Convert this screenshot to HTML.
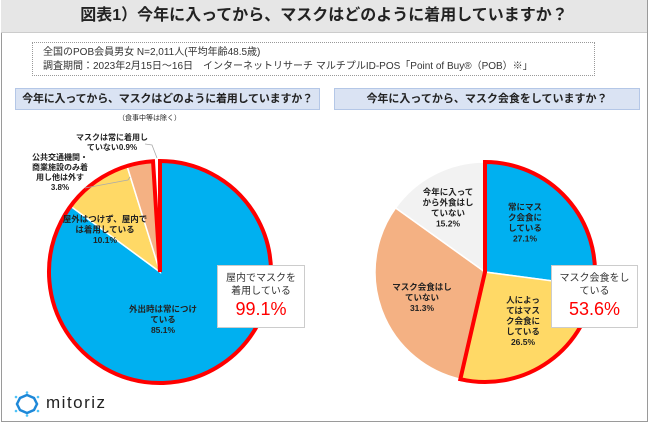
<!DOCTYPE html>
<html><head><meta charset="utf-8">
<style>
body{margin:0;width:650px;height:426px;background:#fff;font-family:"Liberation Sans","Noto Sans CJK JP",sans-serif;overflow:hidden;position:relative}
.abs{position:absolute}
</style></head><body>
<div class="abs" style="left:1px;top:0;width:645px;height:421px;border:1px solid #9a9a9a;border-top:none"></div>
<div class="abs" style="left:1px;top:0;width:646px;height:32px;background:#e6e6e6;border-bottom:1px solid #ccc;text-align:center;font-size:16px;font-weight:bold;line-height:32px;color:#222">図表1）今年に入ってから、マスクはどのように着用していますか？</div>
<div class="abs" style="left:32px;top:42px;width:563px;height:34px;border:1px dotted #999;font-size:10px;color:#333;line-height:14px;padding:3px 0 0 10px;box-sizing:border-box">全国のPOB会員男女 N=2,011人(平均年齢48.5歳)<br>調査期間：2023年2月15日～16日　インターネットリサーチ マルチプルID-POS「Point of Buy®（POB）※」</div>
<div class="abs" style="left:15px;top:88px;width:305px;height:22px;background:#dae3f3;border:1px solid #b4c7e7;box-sizing:border-box;font-size:11px;font-weight:bold;text-align:center;line-height:20px;color:#222;white-space:nowrap;letter-spacing:-0.2px">今年に入ってから、マスクはどのように着用していますか？</div>
<div class="abs" style="left:334px;top:88px;width:306px;height:22px;background:#dae3f3;border:1px solid #b4c7e7;box-sizing:border-box;font-size:11px;font-weight:bold;text-align:center;line-height:20px;color:#222;white-space:nowrap">今年に入ってから、マスク会食をしていますか？</div>
<div class="abs" style="left:118px;top:113px;font-size:7px;color:#222">（食事中等は除く）</div>
<svg id="chart" class="abs" style="left:0;top:0" width="650" height="426"></svg>
<div class="abs" style="left:217px;top:265px;width:88px;height:63px;background:#fff;border:1px solid #ccc;box-sizing:border-box;text-align:center;font-size:10px;color:#333;line-height:13px;padding-top:6px">屋内でマスクを<br>着用している<div style="color:#f00;font-size:18px;line-height:22px">99.1%</div></div>
<div class="abs" style="left:551px;top:265px;width:87px;height:63px;background:#fff;border:1px solid #ccc;box-sizing:border-box;text-align:center;font-size:10px;color:#333;line-height:13px;padding-top:6px">マスク会食をし<br>ている<div style="color:#f00;font-size:18px;line-height:22px">53.6%</div></div>
<div class="abs" style="left:14px;top:391px;width:100px;height:26px">
<svg width="26" height="26" style="position:absolute;left:0;top:0"><polygon points="13,4 20,7 23,13 20,19 13,22 6,19 3,13 6,7" fill="none" stroke="#1e88d8" stroke-width="2.5"/><g fill="#4fc3f7"><circle cx="13" cy="1.5" r="1.3"/><circle cx="24" cy="6" r="1.3"/><circle cx="24" cy="20" r="1.3"/><circle cx="13" cy="24.5" r="1.3"/><circle cx="2" cy="20" r="1.3"/><circle cx="2" cy="6" r="1.3"/></g></svg>
<span style="position:absolute;left:32px;top:2px;font-size:17px;letter-spacing:1.5px;color:#222">mitoriz</span></div>
<script>
const leftCats=["外出時は常につけている","屋外はつけず、屋内では着用している","公共交通機関・商業施設のみ着用し他は外す","マスクは常に着用していない"];
const leftVals=[85.1,10.1,3.8,0.9];
const rightCats=["常にマスク会食にしている","人によってはマスク会食にしている","マスク会食はしていない","今年に入ってから外食はしていない"];
const rightVals=[27.1,26.5,31.3,15.2];
const leftColors=["#00b0f0","#ffd966","#f4b183","#ffffff"];
const rightColors=["#00b0f0","#ffd966","#f4b183","#f2f2f2"];
const svg=document.getElementById('chart');const NS="http://www.w3.org/2000/svg";
function pt(cx,cy,r,p){const a=p/100*2*Math.PI;return [cx+r*Math.sin(a),cy-r*Math.cos(a)];}
function arc(cx,cy,r,p0,p1){const [x0,y0]=pt(cx,cy,r,p0),[x1,y1]=pt(cx,cy,r,p1);return `M${cx},${cy}L${x0},${y0}A${r},${r} 0 ${p1-p0>50?1:0} 1 ${x1},${y1}Z`;}
function pie(cx,cy,r,vals,colors,hl,name){let c=0;vals.forEach((v,i)=>{const p=document.createElementNS(NS,'path');p.setAttribute('d',arc(cx,cy,r,c,c+v));p.setAttribute('fill',colors[i]);p.setAttribute('stroke','#fff');p.setAttribute('stroke-width','1.5');


svg.appendChild(p);c+=v;});
let s=0;for(let i=0;i<hl;i++)s+=vals[i];const o=document.createElementNS(NS,'path');o.setAttribute('d',arc(cx,cy,r,0,s));o.setAttribute('fill','none');o.setAttribute('stroke','#ff0000');o.setAttribute('stroke-width','4');o.setAttribute('stroke-linejoin','miter');


svg.appendChild(o);}
pie(160,272,111,leftVals,leftColors,3,'left-pie');
pie(485,272,110,rightVals,rightColors,2,'right-pie');
function txt(x,y,lines,size,name){const t=document.createElementNS(NS,'text');t.setAttribute('x',x);t.setAttribute('y',y);t.setAttribute('text-anchor','middle');t.setAttribute('font-size',size);t.setAttribute('fill','#222');t.setAttribute('font-weight','bold');


lines.forEach((l,i)=>{const s=document.createElementNS(NS,'tspan');s.setAttribute('x',x);s.setAttribute('dy',i?size+2:0);s.textContent=l;t.appendChild(s);});svg.appendChild(t);}
txt(163,312,["外出時は常につけ","ている",leftVals[0]+"%"],8.5,'left-label-0');
txt(105,222,["屋外はつけず、屋内で","は着用している",leftVals[1]+"%"],8.5,'left-label-1');
txt(60,160,["公共交通機関・","商業施設のみ着","用し他は外す",leftVals[2]+"%"],8,'left-label-2');
txt(112,140,["マスクは常に着用し","ていない"+leftVals[3]+"%"],8,'left-label-3');
txt(525,210,["常にマス","ク会食に","している",rightVals[0]+"%"],8.5,'right-label-0');
txt(523,303,["人によっ","てはマス","ク会食に","している",rightVals[1]+"%"],8.5,'right-label-1');
txt(422,290,["マスク会食はし","ていない",rightVals[2]+"%"],8.5,'right-label-2');
txt(448,195,["今年に入って","から外食はし","ていない",rightVals[3]+"%"],8.5,'right-label-3');
const l1=document.createElementNS(NS,'polyline');l1.setAttribute('points','85,188 128,180 130,177');l1.setAttribute('fill','none');l1.setAttribute('stroke','#aaa');l1.setAttribute('stroke-width','0.8');


svg.appendChild(l1);
const l2=document.createElementNS(NS,'polyline');l2.setAttribute('points','145,144 152,145 157,158');l2.setAttribute('fill','none');l2.setAttribute('stroke','#aaa');l2.setAttribute('stroke-width','0.8');


svg.appendChild(l2);
</script>
</body></html>
